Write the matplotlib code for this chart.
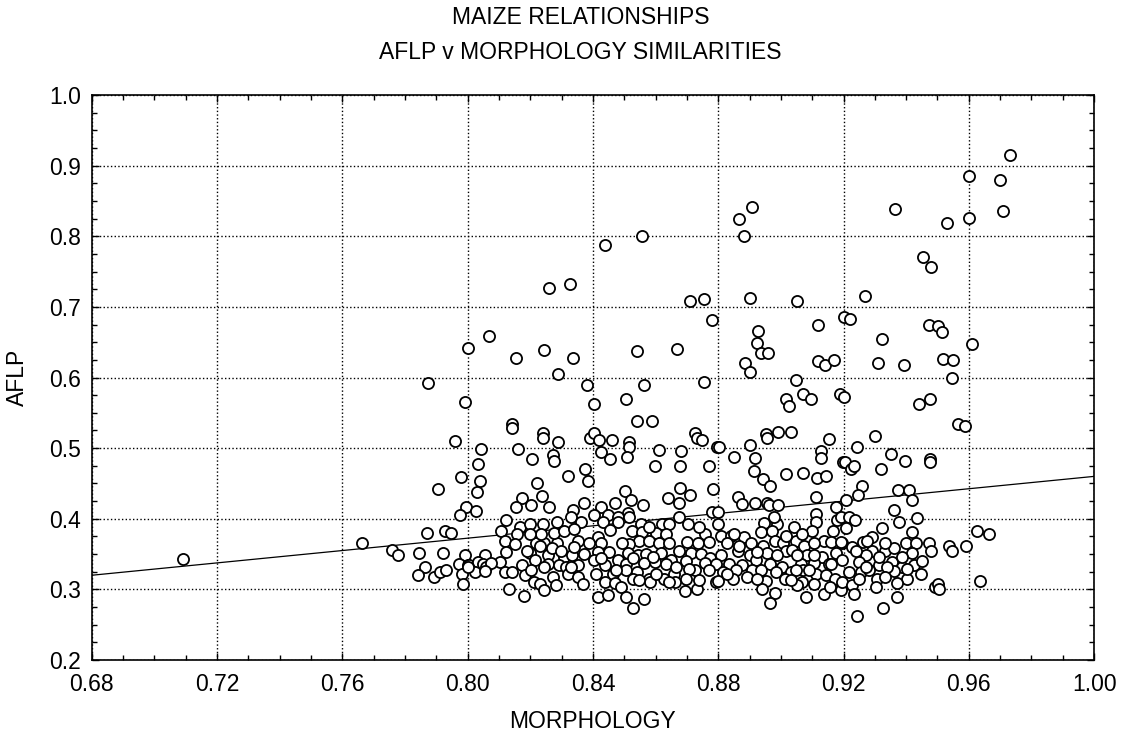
import numpy as np
import matplotlib
matplotlib.use("Agg")
import matplotlib.pyplot as plt
from matplotlib.ticker import MultipleLocator, FormatStrFormatter

plt.rcParams['font.family'] = ['Liberation Sans', 'DejaVu Sans']

# points, (morphology, aflp)
left_pts = [
    (0.709, 0.343), (0.7664, 0.366), (0.7757, 0.356), (0.7777, 0.348), (0.7845, 0.351),
    (0.7873, 0.592), (0.7993, 0.566), (0.796, 0.510), (0.7979, 0.459), (0.7907, 0.442),
    (0.7996, 0.416), (0.7975, 0.406), (0.787, 0.380), (0.7927, 0.382), (0.7946, 0.380),
    (0.7921, 0.352), (0.7993, 0.348), (0.7971, 0.336), (0.7865, 0.331), (0.784, 0.320),
    (0.7892, 0.318), (0.7911, 0.324), (0.793, 0.327), (0.7982, 0.322), (0.7986, 0.307),
    (0.800, 0.334),
]

upper_pts = [
    (0.826, 0.727), (0.8326, 0.732), (0.844, 0.787), (0.8557, 0.800), (0.8865, 0.824),
    (0.8907, 0.842), (0.8883, 0.801), (0.8711, 0.708), (0.8756, 0.711), (0.890, 0.712),
    (0.878, 0.681), (0.8927, 0.666), (0.8923, 0.649), (0.8937, 0.634), (0.896, 0.634),
    (0.8886, 0.621), (0.8902, 0.608), (0.800, 0.642), (0.8068, 0.659), (0.8155, 0.627),
    (0.8243, 0.639), (0.8336, 0.627), (0.8289, 0.605), (0.854, 0.637), (0.867, 0.640),
    (0.8754, 0.593), (0.8562, 0.590), (0.838, 0.589),
    (0.9732, 0.915), (0.960, 0.885), (0.970, 0.879), (0.9708, 0.836), (0.9363, 0.838),
    (0.960, 0.826), (0.9532, 0.819), (0.9453, 0.771), (0.9479, 0.757), (0.927, 0.715),
    (0.905, 0.709), (0.920, 0.686), (0.9221, 0.683), (0.912, 0.674), (0.9473, 0.675),
    (0.9502, 0.673), (0.9514, 0.664), (0.9324, 0.655), (0.961, 0.647), (0.912, 0.624),
    (0.914, 0.618), (0.9169, 0.625), (0.931, 0.621), (0.9394, 0.618), (0.9519, 0.626),
    (0.9548, 0.625), (0.9547, 0.599), (0.9049, 0.596),
]

band_080 = [
    (0.8142, 0.534), (0.8142, 0.529), (0.8242, 0.521), (0.8242, 0.515), (0.8287, 0.508),
    (0.8392, 0.515), (0.8044, 0.499), (0.816, 0.499), (0.8274, 0.490), (0.8275, 0.482),
    (0.8206, 0.484), (0.8032, 0.478), (0.8375, 0.471), (0.8319, 0.461), (0.8383, 0.453),
    (0.8041, 0.454), (0.803, 0.438), (0.8221, 0.451), (0.8173, 0.430), (0.8237, 0.432),
    (0.8153, 0.417), (0.8201, 0.420), (0.826, 0.417), (0.837, 0.422), (0.8337, 0.413),
    (0.8026, 0.411), (0.8121, 0.398), (0.8107, 0.383), (0.8167, 0.388), (0.8199, 0.392),
    (0.824, 0.392), (0.8286, 0.395), (0.8331, 0.402), (0.8362, 0.395), (0.8158, 0.379),
    (0.8118, 0.368), (0.815, 0.364), (0.8217, 0.365), (0.8245, 0.366), (0.8286, 0.366),
    (0.8352, 0.368), (0.8123, 0.353), (0.8198, 0.351), (0.8256, 0.348), (0.8309, 0.346),
    (0.8332, 0.348), (0.8371, 0.350), (0.8102, 0.339), (0.8173, 0.335), (0.8216, 0.341),
    (0.8258, 0.336), (0.8293, 0.335), (0.8315, 0.332), (0.8352, 0.334), (0.8006, 0.335),
    (0.8056, 0.348), (0.8033, 0.339), (0.8049, 0.336), (0.8022, 0.325), (0.8118, 0.324),
    (0.8142, 0.324), (0.8182, 0.321), (0.8213, 0.310), (0.823, 0.308), (0.8272, 0.318),
    (0.8283, 0.306), (0.832, 0.322), (0.8352, 0.318), (0.8368, 0.307), (0.8245, 0.299),
    (0.8131, 0.301), (0.818, 0.291),
]

band_084 = [
    (0.8402, 0.562), (0.8507, 0.569), (0.854, 0.538), (0.8589, 0.538), (0.8404, 0.521),
    (0.8421, 0.512), (0.8462, 0.512), (0.8515, 0.509), (0.8515, 0.502), (0.8727, 0.522),
    (0.8731, 0.514), (0.8747, 0.512), (0.8426, 0.494), (0.8455, 0.484), (0.8509, 0.488),
    (0.8612, 0.498), (0.8682, 0.496), (0.8599, 0.474), (0.8677, 0.475), (0.877, 0.474),
    (0.8795, 0.501), (0.8504, 0.440), (0.8678, 0.444), (0.864, 0.429), (0.871, 0.434),
    (0.8784, 0.442), (0.847, 0.423), (0.8523, 0.427), (0.8559, 0.419), (0.8674, 0.423),
    (0.8426, 0.416), (0.878, 0.409), (0.8402, 0.406), (0.8511, 0.408), (0.8447, 0.405),
    (0.8479, 0.403), (0.8674, 0.402), (0.8431, 0.396), (0.8481, 0.395), (0.8554, 0.393),
    (0.862, 0.392), (0.8644, 0.392), (0.8705, 0.392), (0.8453, 0.384), (0.8524, 0.382),
    (0.8557, 0.381), (0.8601, 0.380), (0.8633, 0.379), (0.8759, 0.379), (0.8415, 0.374),
    (0.8546, 0.369), (0.858, 0.368), (0.861, 0.366), (0.8699, 0.367), (0.8734, 0.365),
    (0.8771, 0.367), (0.8426, 0.365), (0.8516, 0.364), (0.8415, 0.353), (0.845, 0.353),
    (0.8511, 0.351), (0.8543, 0.348), (0.857, 0.350), (0.8617, 0.351), (0.8676, 0.355),
    (0.8713, 0.351), (0.8745, 0.350), (0.8774, 0.344), (0.8405, 0.341), (0.8437, 0.334),
    (0.8479, 0.341), (0.8506, 0.336), (0.8564, 0.337), (0.8599, 0.339), (0.8649, 0.341),
    (0.8697, 0.340), (0.8727, 0.327), (0.8759, 0.337), (0.841, 0.322), (0.8463, 0.322),
    (0.8506, 0.327), (0.8541, 0.325), (0.8578, 0.314), (0.8628, 0.315), (0.866, 0.322),
    (0.8663, 0.310), (0.8644, 0.310), (0.8793, 0.311), (0.844, 0.310), (0.8469, 0.309),
    (0.849, 0.304), (0.8583, 0.310), (0.8415, 0.289), (0.8447, 0.292), (0.8506, 0.289),
    (0.8564, 0.286), (0.8527, 0.274), (0.8695, 0.298), (0.8731, 0.301),
]

band_088 = [
    (0.9016, 0.569), (0.9026, 0.559), (0.9071, 0.577), (0.9095, 0.569), (0.9189, 0.576),
    (0.8952, 0.520), (0.8957, 0.515), (0.8992, 0.523), (0.9032, 0.523), (0.9154, 0.513),
    (0.8803, 0.502), (0.8901, 0.505), (0.8851, 0.488), (0.8918, 0.486), (0.9129, 0.496),
    (0.9129, 0.486), (0.9199, 0.480), (0.8915, 0.468), (0.8944, 0.457), (0.8965, 0.446),
    (0.9016, 0.464), (0.9072, 0.465), (0.9114, 0.458), (0.9145, 0.460), (0.8864, 0.431),
    (0.8877, 0.421), (0.8918, 0.423), (0.8957, 0.423), (0.8962, 0.419), (0.8992, 0.420),
    (0.9113, 0.431), (0.9175, 0.417), (0.8798, 0.409), (0.9112, 0.407), (0.9112, 0.395),
    (0.918, 0.398), (0.8798, 0.393), (0.8947, 0.394), (0.8989, 0.392), (0.9042, 0.388),
    (0.9101, 0.383), (0.9168, 0.382), (0.8808, 0.376), (0.8841, 0.376), (0.8881, 0.374),
    (0.8936, 0.381), (0.8973, 0.383), (0.9048, 0.369), (0.9138, 0.369), (0.9159, 0.367),
    (0.8906, 0.366), (0.8944, 0.362), (0.8982, 0.369), (0.9008, 0.366), (0.9074, 0.362),
    (0.9106, 0.365), (0.9196, 0.365), (0.8862, 0.355), (0.8808, 0.348), (0.8902, 0.348),
    (0.8957, 0.351), (0.9016, 0.355), (0.9037, 0.356), (0.9085, 0.348), (0.9132, 0.346),
    (0.9175, 0.351), (0.8793, 0.336), (0.8835, 0.336), (0.8877, 0.334), (0.892, 0.341),
    (0.8966, 0.336), (0.9005, 0.332), (0.9063, 0.336), (0.9106, 0.337), (0.9154, 0.336),
    (0.8814, 0.325), (0.8856, 0.328), (0.8909, 0.327), (0.8984, 0.325), (0.9032, 0.325),
    (0.9072, 0.327), (0.9111, 0.322), (0.9145, 0.320), (0.8798, 0.312), (0.8846, 0.314),
    (0.8893, 0.318), (0.8952, 0.312), (0.9013, 0.315), (0.9069, 0.310), (0.9172, 0.315),
    (0.8941, 0.301), (0.8981, 0.295), (0.9051, 0.306), (0.9079, 0.289), (0.9138, 0.294),
    (0.9157, 0.304), (0.8966, 0.281), (0.9191, 0.299),
]

band_092 = [
    (0.9202, 0.572), (0.9441, 0.563), (0.9475, 0.570), (0.9566, 0.534), (0.9587, 0.531),
    (0.9299, 0.517), (0.9244, 0.502), (0.9352, 0.492), (0.9395, 0.482), (0.9475, 0.485),
    (0.9475, 0.481), (0.9205, 0.481), (0.9223, 0.471), (0.9233, 0.474), (0.932, 0.470),
    (0.926, 0.447), (0.9246, 0.434), (0.9375, 0.441), (0.9409, 0.441), (0.942, 0.426),
    (0.9209, 0.427), (0.9361, 0.413), (0.9435, 0.401), (0.9377, 0.395), (0.9191, 0.402),
    (0.9218, 0.402), (0.9237, 0.398), (0.9207, 0.387), (0.9324, 0.387), (0.9418, 0.381),
    (0.929, 0.374), (0.9191, 0.367), (0.9262, 0.367), (0.9398, 0.365), (0.943, 0.366),
    (0.9473, 0.366), (0.9478, 0.355), (0.9536, 0.362), (0.9545, 0.355), (0.959, 0.361),
    (0.9227, 0.360), (0.929, 0.355), (0.9334, 0.355), (0.9361, 0.358), (0.942, 0.351),
    (0.9271, 0.348), (0.9196, 0.341), (0.9251, 0.339), (0.9313, 0.335), (0.9356, 0.339),
    (0.9388, 0.332), (0.9425, 0.335), (0.9451, 0.340), (0.9217, 0.325), (0.9255, 0.325),
    (0.9281, 0.328), (0.9361, 0.326), (0.9403, 0.314), (0.9446, 0.322), (0.9196, 0.310),
    (0.9226, 0.306), (0.9308, 0.315), (0.937, 0.309), (0.9303, 0.303), (0.9492, 0.304),
    (0.9502, 0.308), (0.9505, 0.301), (0.9234, 0.293), (0.937, 0.289), (0.9327, 0.274),
    (0.9242, 0.262), (0.9626, 0.382), (0.9663, 0.379), (0.9637, 0.312),
]

# partly hidden circles inside the dense band
band_hidden = [
    (0.8001, 0.332), (0.806, 0.332), (0.8076, 0.337), (0.8054, 0.326), (0.8188, 0.355),
    (0.8231, 0.362), (0.8268, 0.358), (0.8299, 0.355), (0.8341, 0.360), (0.8389, 0.365),
    (0.8245, 0.332), (0.8203, 0.327), (0.8331, 0.332), (0.8235, 0.379), (0.8275, 0.380),
    (0.8309, 0.383), (0.834, 0.386), (0.8198, 0.379),
    (0.8426, 0.344), (0.8527, 0.344), (0.8591, 0.346), (0.8633, 0.336), (0.8665, 0.332),
    (0.8707, 0.329), (0.8474, 0.327), (0.8601, 0.322), (0.8527, 0.315), (0.8548, 0.313),
    (0.8697, 0.315), (0.8739, 0.313), (0.8771, 0.327), (0.8493, 0.365), (0.8644, 0.365),
    (0.858, 0.388), (0.8516, 0.402), (0.8739, 0.388),
    (0.8829, 0.365), (0.8867, 0.362), (0.8925, 0.353), (0.8989, 0.348), (0.9053, 0.348),
    (0.9106, 0.348), (0.9159, 0.336), (0.8936, 0.327), (0.9048, 0.327), (0.909, 0.327),
    (0.8829, 0.322), (0.8925, 0.315), (0.9032, 0.313), (0.9106, 0.308), (0.8851, 0.379),
    (0.9016, 0.376), (0.9069, 0.379), (0.8978, 0.402),
    (0.924, 0.355), (0.9313, 0.346), (0.9388, 0.346), (0.9271, 0.332), (0.934, 0.332),
    (0.9403, 0.329), (0.9249, 0.315), (0.9334, 0.318), (0.9276, 0.369), (0.9334, 0.365),
]

# fitted line as drawn in the reference
fit_intercept = 0.320   # AFLP at MORPHOLOGY = 0.68
fit_slope = 0.4375

pts = np.array(left_pts + upper_pts + band_080 + band_084 + band_088 + band_092 + band_hidden)
morph = pts[:, 0]
aflp = pts[:, 1]

fs = 16.5

fig = plt.figure(figsize=(11.27, 7.40), dpi=100)
ax = fig.add_axes([0.0814, 0.1081, 0.8894, 0.7635])

xs = np.array([0.68, 1.00])
ax.plot(xs, fit_intercept + fit_slope * (xs - 0.68), color='black', lw=0.9, zorder=2)
ax.scatter(morph, aflp, s=64, facecolors='white', edgecolors='black', linewidths=1.3, zorder=3)

ax.set_xlim(0.68, 1.00)
ax.set_ylim(0.2, 1.0)
ax.xaxis.set_major_locator(MultipleLocator(0.04))
ax.xaxis.set_minor_locator(MultipleLocator(0.01))
ax.yaxis.set_major_locator(MultipleLocator(0.1))
ax.yaxis.set_minor_locator(MultipleLocator(0.025))
ax.xaxis.set_major_formatter(FormatStrFormatter('%.2f'))
ax.yaxis.set_major_formatter(FormatStrFormatter('%.1f'))
ax.tick_params(which='both', direction='in', top=True, right=True, labelsize=fs, colors='black')
ax.tick_params(which='major', length=5, width=1)
ax.tick_params(which='minor', length=3.5, width=1)
ax.tick_params(axis='x', pad=9)
ax.tick_params(axis='y', pad=8)
ax.grid(True, which='major', linestyle=':', color='black', lw=1)
for s in ax.spines.values():
    s.set_linewidth(1.2)

ax.set_xlabel('MORPHOLOGY', fontsize=fs)
ax.set_ylabel('AFLP', fontsize=fs)
ax.xaxis.set_label_coords(0.5, -0.088)
ax.yaxis.set_label_coords(-0.063, 0.5)
fig.text(0.515, 0.9757, 'MAIZE RELATIONSHIPS', ha='center', va='center', fontsize=fs)
fig.text(0.515, 0.9285, 'AFLP v MORPHOLOGY SIMILARITIES', ha='center', va='center', fontsize=fs)

fig.savefig('out.png', dpi=100)
